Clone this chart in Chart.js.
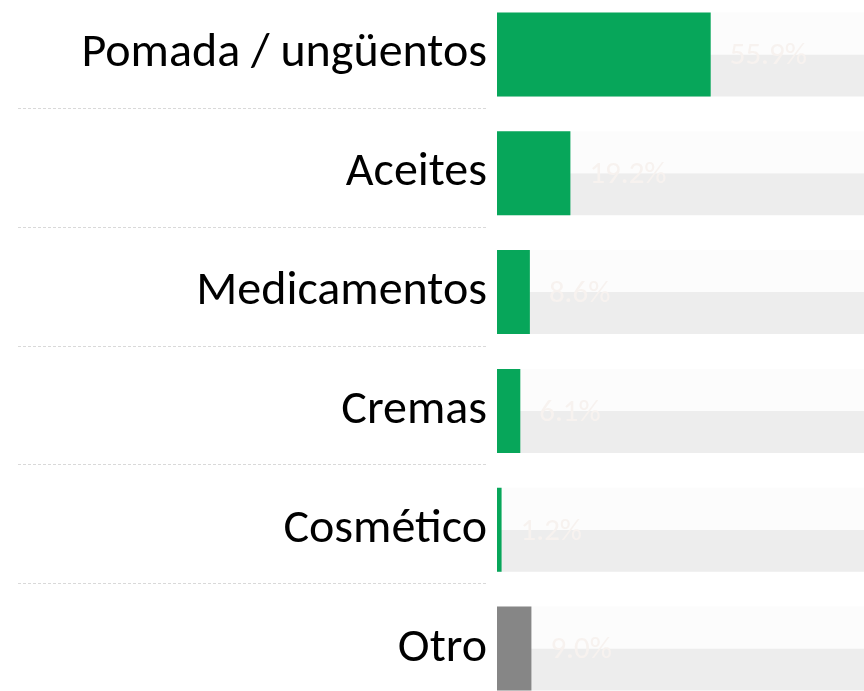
<!DOCTYPE html>
<html>
<head>
<meta charset="utf-8">
<script src="https://cdn.jsdelivr.net/npm/chart.js@4/dist/chart.umd.min.js"></script>
<style>
    html, body { margin: 0; padding: 0; background: #fff; overflow: hidden; }
    #wrap { position: absolute; left: 0; top: -5px; width: 864px; height: 713px; }
</style>
</head>
<body>
<div id="wrap"><canvas id="chart"></canvas></div>
<script>
// datos
var categorias = ["Pomada / ungüentos", "Aceites", "Medicamentos", "Cremas", "Cosmético", "Otro"];
var porcentajes = [55.9, 19.2, 8.6, 6.1, 1.2, 9.0];
var maxEscala = 96;
var fondo = [100, 100, 100, 100, 100, 100];

var verde = "#07A65A";
var gris = "#868686";
var colores = categorias.map(function(c){ return c === "Otro" ? gris : verde; });

// etiquetas de valor y lineas separadoras
var extras = {
    id: "extras",
    beforeDatasetsDraw: function(chart) {
        var ctx = chart.ctx;
        var y = chart.scales.y;
        ctx.save();
        ctx.strokeStyle = "#D9D9D9";
        ctx.lineWidth = 1;
        ctx.setLineDash([3, 2]);
        for (var i = 0; i < categorias.length - 1; i++) {
            var py = Math.round(y.getPixelForValue(i + 0.5)) - 5.5;
            ctx.beginPath();
            ctx.moveTo(18, py);
            ctx.lineTo(487, py);
            ctx.stroke();
        }
        ctx.restore();
    },
    afterDatasetsDraw: function(chart) {
        var ctx = chart.ctx;
        var meta = chart.getDatasetMeta(0);
        ctx.save();
        ctx.font = "31px Carlito";
        ctx.fillStyle = "#F7F2EF";
        ctx.textAlign = "left";
        ctx.textBaseline = "middle";
        meta.data.forEach(function(bar, i) {
            ctx.fillText(porcentajes[i].toFixed(1) + "%", bar.x + 19, bar.y + 2);
        });
        ctx.restore();
    }
};

new Chart(document.getElementById("chart"), {
    type: "bar",
    data: {
        labels: categorias,
        datasets: [{
            data: porcentajes,
            backgroundColor: colores,
            grouped: false,
            barPercentage: 1,
            categoryPercentage: 0.707
        }, {
            data: fondo,
            backgroundColor: "#FCFCFC",
            barPercentage: 1,
            categoryPercentage: 0.707
        }, {
            data: fondo,
            backgroundColor: "#EDEDED",
            barPercentage: 1,
            categoryPercentage: 0.707
        }]
    },
    options: {
        indexAxis: "y",
        responsive: true,
        maintainAspectRatio: false,
        animation: false,
        layout: { padding: 0 },
        plugins: {
            legend: { display: false },
            tooltip: { enabled: false }
        },
        scales: {
            x: {
                display: false,
                min: 0,
                max: maxEscala
            },
            y: {
                afterFit: function(scale) {
                    scale.width = 497;
                    scale.paddingTop = 0;
                    scale.paddingBottom = 0;
                },
                grid: { display: false, drawTicks: false },
                border: { display: false },
                ticks: {
                    padding: 10,
                    color: "#000",
                    font: { family: "Carlito", size: 48 }
                }
            }
        }
    },
    plugins: [extras]
});
</script>
</body>
</html>
